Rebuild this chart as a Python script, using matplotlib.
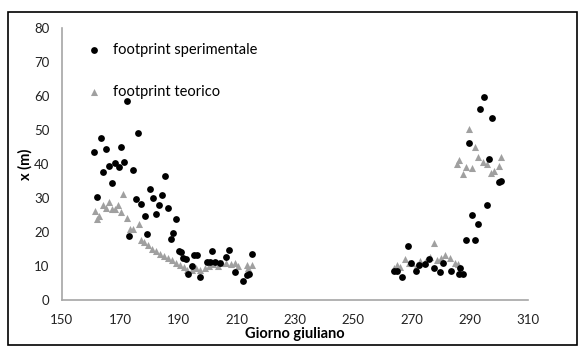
import numpy as np
import matplotlib
matplotlib.use("Agg")
import matplotlib.pyplot as plt
from matplotlib.patches import Rectangle

plt.rcParams['font.family'] = ['Lato', 'DejaVu Sans']

# footprint sperimentale (black dots)
sper_day = [161.1, 162.1, 163.3, 164.2, 165.1, 166.3, 167.2, 168.1, 169.5, 170.2,
            171.3, 172.2, 173.1, 174.3, 175.4, 176.2, 177.1, 178.4, 179.3, 180.2,
            181.3, 182.4, 183.4, 184.4, 185.4, 186.3, 187.4, 188.2, 189.3, 190.3,
            190.8, 191.7, 192.6, 193.2, 194.6, 195.4, 196.5, 197.4, 199.7, 200.9,
            201.4, 202.6, 204.3, 206.4, 207.5, 209.5, 212.3, 213.5, 214.4, 215.3,
            264.1, 265.0, 266.7, 268.7, 270.0, 271.6, 272.5, 274.7, 276.0, 277.6,
            279.9, 281.0, 283.7, 286.2, 286.8, 287.7, 288.8, 289.9, 290.7, 291.8,
            292.7, 293.6, 294.8, 296.0, 296.8, 297.8, 300.2, 300.9]
sper_x = [43.6, 30.4, 47.7, 37.6, 44.3, 39.5, 34.5, 40.2, 39.2, 45.1,
          40.6, 58.6, 18.8, 38.1, 29.6, 49.0, 28.3, 24.8, 19.3, 32.8,
          29.9, 25.3, 28.1, 30.8, 36.5, 27.0, 18.1, 19.6, 23.8, 14.3,
          14.2, 12.3, 12.1, 7.8, 10.0, 13.2, 13.2, 6.9, 11.1, 11.3,
          14.4, 11.3, 10.8, 12.7, 14.7, 8.3, 5.6, 7.4, 7.8, 13.7,
          8.5, 8.6, 6.9, 16.0, 11.0, 8.6, 10.3, 10.6, 12.0, 9.3,
          8.3, 11.0, 8.6, 7.6, 9.3, 7.6, 17.7, 46.1, 25.0, 17.7,
          22.4, 56.1, 59.8, 27.9, 41.4, 53.6, 34.8, 35.0]

# footprint teorico (grey triangles)
teo_day = [161.2, 162.1, 162.8, 164.2, 165.1, 166.3, 167.2, 168.2, 169.2, 170.3,
           171.1, 172.2, 173.4, 174.5, 176.3, 177.1, 178.2, 179.6, 180.9, 182.3,
           183.7, 185.1, 186.4, 187.8, 189.2, 190.5, 191.9, 193.1, 194.5, 196.0,
           197.5, 199.0, 200.5, 202.0, 203.5, 205.0, 206.5, 208.0, 209.5, 210.5,
           213.5, 214.0, 215.2,
           263.9, 265.0, 266.2, 267.9, 269.0, 270.2, 271.9, 273.0, 274.7, 276.4,
           277.6, 278.7, 280.0, 281.6, 283.3, 285.0, 286.0, 285.6, 286.5, 287.7,
           288.8, 289.8, 290.8, 291.8, 292.8, 294.6, 296.0, 297.4, 298.2, 299.9,
           300.7]
teo_x = [26.3, 23.8, 24.7, 27.9, 27.2, 28.9, 26.7, 26.7, 28.1, 26.0,
         31.1, 24.0, 20.8, 20.8, 22.3, 17.8, 17.1, 16.1, 15.0, 14.4,
         13.7, 13.1, 12.4, 11.8, 11.0, 10.3, 9.6, 8.8, 9.0, 9.5,
         9.0, 9.5, 10.0, 10.5, 10.0, 10.8, 11.0, 10.5, 11.0, 10.0,
         10.3, 9.5, 10.3,
         9.3, 10.3, 9.8, 12.0, 11.0, 11.0, 10.3, 11.5, 11.3, 12.7,
         16.9, 11.8, 12.5, 13.2, 12.3, 11.0, 10.5, 40.0, 41.2, 37.0,
         39.0, 50.2, 38.7, 45.1, 42.0, 40.7, 39.9, 37.4, 38.0, 39.4,
         42.0]

x_ticks = [150, 170, 190, 210, 230, 250, 270, 290, 310]
y_ticks = [0, 10, 20, 30, 40, 50, 60, 70, 80]

fig = plt.figure(figsize=(5.84, 3.49), dpi=100)
ax = fig.add_axes([0.106, 0.14, 0.798, 0.78])

ax.scatter(sper_day, sper_x, s=24, c='black', marker='o', linewidths=0,
           label='footprint sperimentale', zorder=3)
ax.scatter(teo_day, teo_x, s=26, c='#a0a0a0', marker='^', linewidths=0,
           label='footprint teorico', zorder=2)

ax.set_xlim(150, 310)
ax.set_ylim(0, 80)
ax.set_xticks(x_ticks)
ax.set_yticks(y_ticks)
ax.tick_params(length=0, labelsize=9.5, colors='#222222')
ax.tick_params(axis='x', pad=10)
ax.tick_params(axis='y', pad=9)
for side in ['top', 'right']:
    ax.spines[side].set_visible(False)
for side in ['left', 'bottom']:
    ax.spines[side].set_color('#a6a6a6')
    ax.spines[side].set_linewidth(1.2)

ax.set_xlabel('Giorno giuliano', fontsize=10.5, fontweight='bold', labelpad=1)
ax.set_ylabel('x (m)', fontsize=10.5, fontweight='bold', labelpad=1)

ax.legend(loc='upper left', bbox_to_anchor=(0.025, 0.965), frameon=False,
          fontsize=10.5, labelspacing=1.9, handletextpad=0.3, markerscale=1.0,
          borderaxespad=0)

fig.patches.append(Rectangle((0.013, 0.012), 0.975, 0.955, transform=fig.transFigure,
                             fill=False, edgecolor='black', linewidth=1.2))

fig.savefig('out.png', dpi=100)
